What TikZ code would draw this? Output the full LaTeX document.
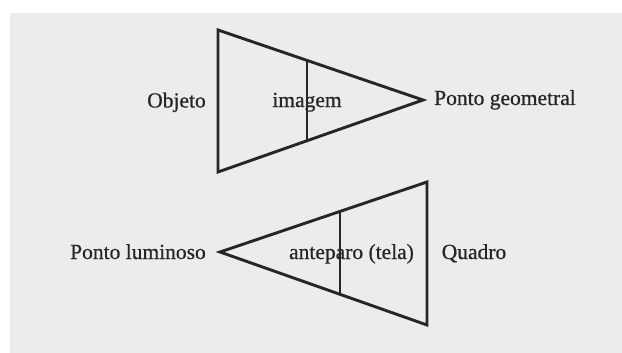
\documentclass[tikz,border=0pt]{standalone}
\usepackage{fontspec}
\setmainfont{Liberation Serif}
\newfontfamily\labelfont[FakeBold=0.7]{Liberation Serif}
\usetikzlibrary{calc}
\definecolor{paper}{HTML}{ECECEC}
\definecolor{ink}{HTML}{262626}
\begin{document}
\begin{tikzpicture}[x=1pt,y=-1pt,
  edge/.style={draw=ink,line width=2.9pt,line join=miter,line cap=butt},
  lbl/.style={text=ink,font=\labelfont\fontsize{21.5}{24}\selectfont,inner sep=0pt,anchor=base}]
  % page and sheet
  \fill[white] (0,0) rectangle (622,353);
  \useasboundingbox (0,0) rectangle (622,353);
  \fill[paper] (10,13) rectangle (622,353);

  % upper cone: object plane to eye point
  \coordinate (oT) at (218,30);
  \coordinate (oB) at (218,172);
  \coordinate (gp) at (423,100);
  \draw[edge] (oT) -- (gp) -- (oB) -- cycle;
  \coordinate (iT) at ($(oT)!0.433!(gp)$);
  \coordinate (iB) at ($(oB)!0.433!(gp)$);
  \draw[edge,line width=2.5pt] (iT) -- (iB);

  \node[lbl] (objeto) at (176.5,107.5) {Objeto};
  \node[lbl] (imagem) at (307,107) {imagem};
  \node[lbl] (geometral) at (505,105) {Ponto geometral};

  % lower cone: light point to picture plane
  \coordinate (qT) at (427,182);
  \coordinate (qB) at (427,325);
  \coordinate (lp) at (220,252);
  \draw[edge] (qT) -- (lp) -- (qB) -- cycle;
  \coordinate (aT) at ($(lp)!0.5797!(qT)$);
  \coordinate (aB) at ($(lp)!0.5797!(qB)$);
  \draw[edge,line width=2.5pt] (aT) -- (aB);

  \node[lbl] (luminoso) at (138,259) {Ponto luminoso};
  \node[lbl] (tela) at (351.5,259) {anteparo (tela)};
  \node[lbl] (quadro) at (474,259) {Quadro};
\end{tikzpicture}
\end{document}
